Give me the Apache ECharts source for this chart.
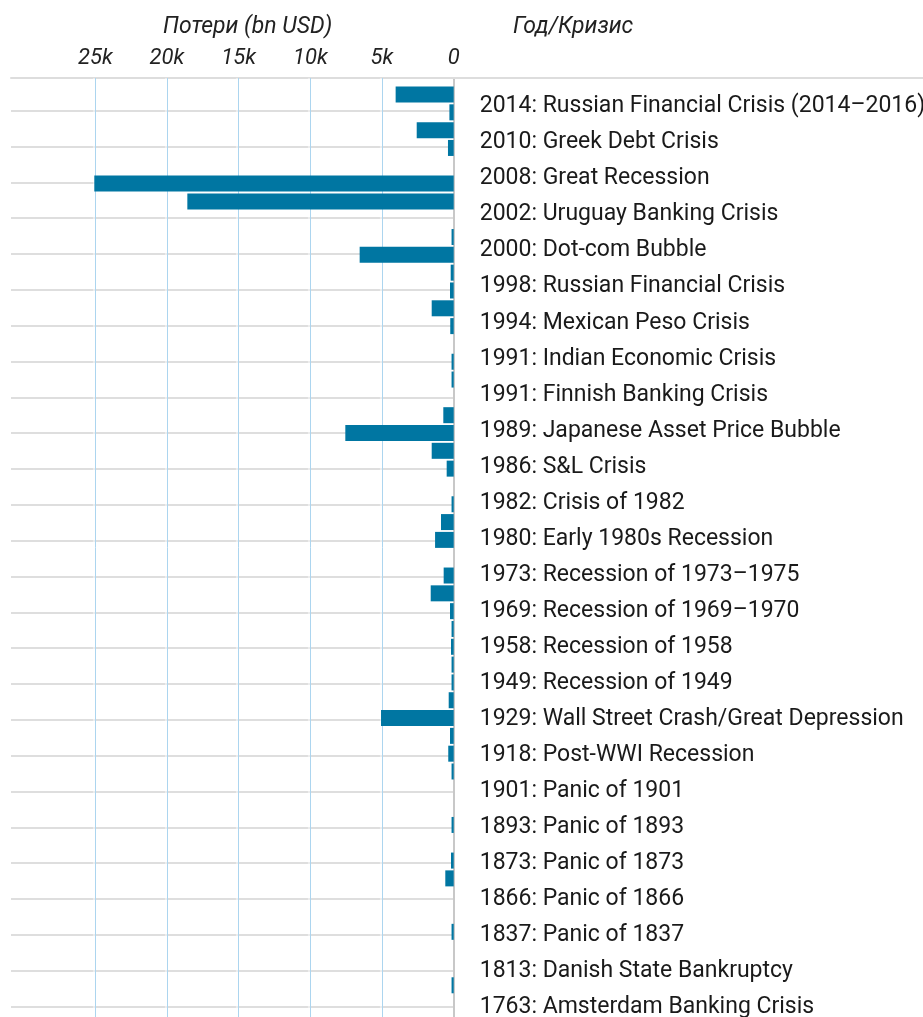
<!DOCTYPE html>
<html>
<head>
<meta charset="utf-8">
<script src="https://cdn.jsdelivr.net/npm/echarts@6/dist/echarts.min.js"></script>
<style>
html, body { margin: 0; padding: 0; background: #fff; overflow: hidden; }
#main { width: 923px; height: 1017px; }
</style>
</head>
<body>
<div id="main"></div>
<script>
// crises, newest first
var crises = [
  '2014: Russian Financial Crisis (2014–2016)',
  '2010: Greek Debt Crisis',
  '2008: Great Recession',
  '2002: Uruguay Banking Crisis',
  '2000: Dot-com Bubble',
  '1998: Russian Financial Crisis',
  '1994: Mexican Peso Crisis',
  '1991: Indian Economic Crisis',
  '1991: Finnish Banking Crisis',
  '1989: Japanese Asset Price Bubble',
  '1986: S&L Crisis',
  '1982: Crisis of 1982',
  '1980: Early 1980s Recession',
  '1973: Recession of 1973–1975',
  '1969: Recession of 1969–1970',
  '1958: Recession of 1958',
  '1949: Recession of 1949',
  '1929: Wall Street Crash/Great Depression',
  '1918: Post-WWI Recession',
  '1901: Panic of 1901',
  '1893: Panic of 1893',
  '1873: Panic of 1873',
  '1866: Panic of 1866',
  '1837: Panic of 1837',
  '1813: Danish State Bankruptcy',
  '1763: Amsterdam Banking Crisis'
];

// losses, bn USD (two bars per row)
var lossUpper = [4050, 2580, 0, 18580, 150, 210, 1535, 0, 150, 725, 1535, 0, 886,
                 0, 1604, 150, 150, 349, 258, 150, 0, 0, 586, 0, 0, 150];
var lossLower = [300, 400, 25070, 0, 6560, 260, 240, 150, 0, 7560, 490, 150, 1300,
                 700, 260, 190, 150, 5070, 380, 0, 150, 190, 0, 150, 0, 0];

var xTicks = [0, 5000, 10000, 15000, 20000, 25000];
var xMax = xTicks[xTicks.length - 1];

var font = 'Roboto, "Liberation Sans", sans-serif';
var barColor = '#0076a2';

var chart = echarts.init(document.getElementById('main'));

var hidden = { show: false };
function blankX(idx, max) {
  return { gridIndex: idx, type: 'value', min: 0, max: max, inverse: true, show: false };
}
function box(o) {
  o.outerBoundsMode = 'none';
  o.containLabel = false;
  return o;
}

var option = {
  animation: false,
  backgroundColor: '#fff',
  title: [
    {
      text: 'Потери (bn USD)', left: 163, top: 16, padding: 0,
      textStyle: { fontFamily: font, fontStyle: 'italic', fontWeight: 'normal', fontSize: 23, color: '#222' }
    },
    {
      text: 'Год/Кризис', left: 513, top: 16, padding: 0,
      textStyle: { fontFamily: font, fontStyle: 'italic', fontWeight: 'normal', fontSize: 23, color: '#222' }
    }
  ],
  grid: [
    box({ left: 95.3, width: 358.4, top: 85.6, height: 926.4 }),  // bars
    box({ left: 11, width: 442.7, top: 74.9, height: 931.6 }),    // row rules
    box({ left: 95.3, width: 358.4, top: 78, height: 939 }),      // value axis
    box({ left: 11, right: 0, top: 78, height: 1 }),              // top rule
    box({ left: 95.3, width: 358.4, top: 88.5, height: 937 })     // crisis labels
  ],
  xAxis: [
    blankX(0, xMax),
    blankX(1, 1),
    {
      gridIndex: 2, type: 'value', min: 0, max: xMax, interval: 5000, inverse: true,
      position: 'top', z: 1,
      axisLine: hidden, axisTick: hidden,
      axisLabel: {
        margin: 9, fontFamily: font, fontStyle: 'italic', fontSize: 22, color: '#222',
        formatter: function (v) { return v === 0 ? '0' : (v / 1000) + 'k'; }
      },
      splitLine: {
        show: true, showMinLine: false, showMaxLine: true,
        lineStyle: { color: '#acd5ef', width: 1, shadowColor: '#fff', shadowBlur: 1, shadowOffsetX: -1.5 }
      }
    },
    {
      gridIndex: 3, type: 'value', position: 'top',
      axisLine: { show: true, onZero: false, lineStyle: { color: '#dddddd', width: 2 } },
      axisTick: hidden, axisLabel: hidden, splitLine: hidden
    },
    blankX(4, xMax)
  ],
  yAxis: [
    { gridIndex: 0, type: 'category', data: crises, inverse: true, show: false },
    {
      gridIndex: 1, type: 'value', min: 0, max: crises.length, interval: 1, inverse: true,
      axisLine: hidden, axisTick: hidden, axisLabel: hidden,
      splitLine: { show: true, showMinLine: false, lineStyle: { color: '#dedede', width: 2 } }
    },
    {
      gridIndex: 2, type: 'value', position: 'right',
      axisLine: { show: true, onZero: false, lineStyle: { color: '#c8c8c8', width: 2 } },
      axisTick: hidden, axisLabel: hidden, splitLine: hidden
    },
    { gridIndex: 3, type: 'value', show: false },
    {
      gridIndex: 4, type: 'category', data: crises, inverse: true, position: 'right',
      axisLine: hidden, axisTick: hidden, splitLine: hidden,
      axisLabel: { margin: 26, fontFamily: font, fontSize: 23, color: '#1a1a1a' }
    }
  ],
  series: [
    {
      type: 'bar', xAxisIndex: 0, yAxisIndex: 0, data: lossUpper,
      barWidth: 16, barGap: '11.35%', clip: false,
      itemStyle: { color: barColor }, z: 3
    },
    {
      type: 'bar', xAxisIndex: 0, yAxisIndex: 0, data: lossLower,
      barWidth: 16, barGap: '11.35%', clip: false,
      itemStyle: { color: barColor }, z: 3
    }
  ]
};

chart.setOption(option);
</script>
</body>
</html>
